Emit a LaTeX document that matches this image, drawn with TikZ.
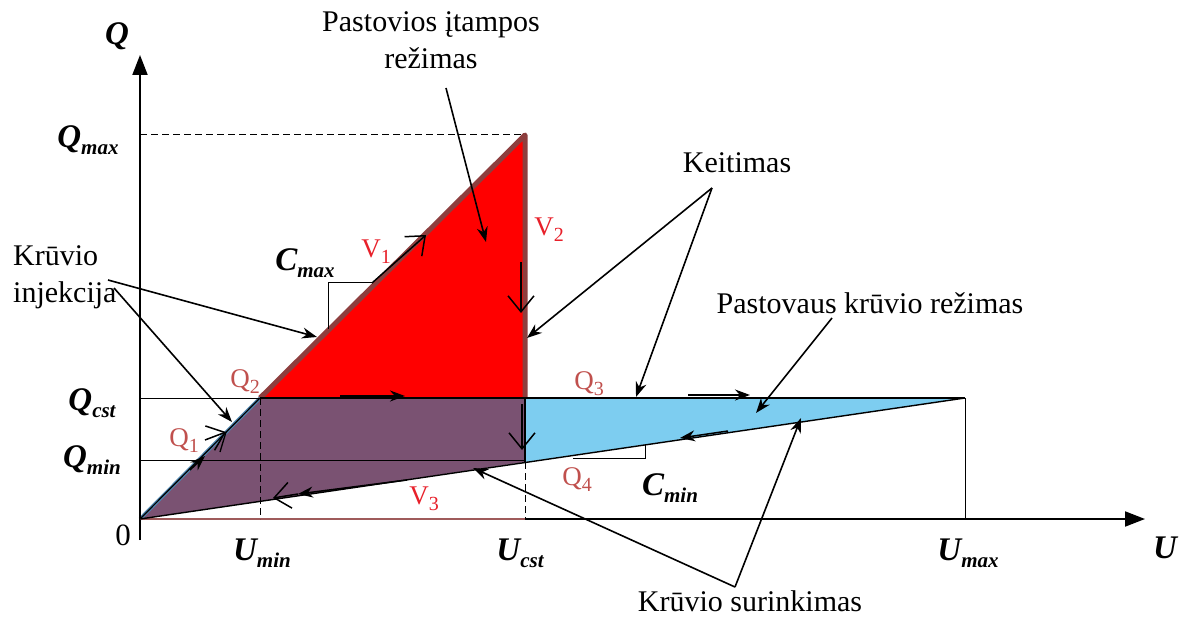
\documentclass[tikz,border=0pt]{standalone}
\usepackage{fontspec}
\setmainfont{Liberation Serif}
\usetikzlibrary{arrows.meta}
\definecolor{fillred}{HTML}{FF0000}
\definecolor{fillpurple}{HTML}{7A5272}
\definecolor{fillblue}{HTML}{7DCDF0}
\definecolor{edgebrown}{HTML}{8E3E3E}
\definecolor{qred}{HTML}{C0504D}
\definecolor{vred}{HTML}{E8202A}
\definecolor{edgeblue}{HTML}{4F86B0}
\newcommand\bsub[2]{#1\raisebox{-7pt}{\fontsize{21}{21}\selectfont #2}}
\newcommand\rsub[2]{#1\raisebox{-6pt}{\fontsize{20}{20}\selectfont #2}}
\begin{document}
\begin{tikzpicture}[x=1pt,y=-1pt,
  txt/.style={font=\fontsize{30}{37}\selectfont, inner sep=0pt},
  axl/.style={font=\fontsize{33}{36}\selectfont\bfseries\itshape, inner sep=0pt},
  qlab/.style={text=qred, font=\fontsize{27}{30}\selectfont, inner sep=0pt},
  vlab/.style={text=vred, font=\fontsize{27}{30}\selectfont, inner sep=0pt},
  ann/.style={line width=1.6pt, -{Stealth[length=15pt,width=11pt]}},
  flow/.style={line width=1.5pt, -{Stealth[length=15pt,width=11pt]}},
  barb/.style={line width=1.5pt, -{Straight Barb[length=16pt,width=26pt,line width=1.5pt]}},
  thinline/.style={line width=1pt},
  axis/.style={line width=2pt, -{Triangle[length=20pt,width=15pt]}},
]
\useasboundingbox (0,0) rectangle (1196,617);
\fill[white] (0,0) rectangle (1196,617);
% key points
\coordinate (O) at (140,519);
\coordinate (Q2p) at (260,398);
\coordinate (T) at (525,135);
\coordinate (Cq) at (525,398);
\coordinate (Cm) at (525,462);
\coordinate (Um) at (965,398);
\coordinate (Qcst0) at (140,398);
\coordinate (Qmin0) at (140,460);
\coordinate (Qmin1) at (525,460);
\coordinate (Qmax0) at (140,135);
\coordinate (UminB) at (260,519);
\coordinate (UcstB) at (525,519);
\coordinate (UmaxB) at (965,519);
\coordinate (Ybot) at (140,540);
\coordinate (Ytop) at (140,55);
\coordinate (Xend) at (1145,519);
% fills
\fill[fillred] (Q2p) -- (T) -- (Cq) -- cycle;
\fill[fillpurple] (O) -- (Q2p) -- (Cq) -- (Cm) -- cycle;
\fill[fillblue] (Cq) -- (Um) -- (Cm) -- cycle;
% edges
\draw[edgebrown, line width=5pt, line join=round] (Q2p) -- (T) -- (Cq);
\draw[edgeblue, line width=3.5pt] (O) -- (Q2p);
\draw[line width=1.2pt] (O) -- (Q2p);
\draw[line width=1.2pt] (Cq) -- (Cm);
% axes
\draw[axis] (Ybot) -- (Ytop);
\draw[axis] (O) -- (Xend);
\draw[edgebrown!85, line width=2.5pt] (O) -- (UcstB);
% guide lines
\draw[thinline, dashed, dash pattern=on 7pt off 4pt] (Qmax0) -- (T);
\draw[thinline] (Qcst0) -- (Q2p);
\draw[line width=1.8pt] (Q2p) -- (Um);
\draw[thinline] (Qmin0) -- (Qmin1);
\draw[line width=1.4pt] (O) -- (Um);
\draw[thinline, dashed, dash pattern=on 7pt off 4pt] (Q2p) -- (UminB);
\draw[thinline, dashed, dash pattern=on 7pt off 4pt] (Cm) -- (UcstB);
\draw[thinline] (Um) -- (UmaxB);
% slope brackets
\coordinate (cmaxA) at (328,329);
\coordinate (cmaxB) at (328,283);
\coordinate (cmaxC) at (372,283);
\draw[thinline] (cmaxA) -- (cmaxB) -- (cmaxC);
\coordinate (cminA) at (573,458);
\coordinate (cminB) at (645,458);
\coordinate (cminC) at (645,444);
\draw[thinline] (cminA) -- (cminB) -- (cminC);
% flow arrows
\coordinate (v1a) at (372,283);
\coordinate (v1b) at (426,235);
\draw[barb] (v1a) -- (v1b);
\coordinate (v2a) at (521,262);
\coordinate (v2b) at (521,313);
\draw[barb] (v2a) -- (v2b);
\coordinate (dna) at (522,404);
\coordinate (dnb) at (522,450);
\draw[barb] (dna) -- (dnb);
\coordinate (qca) at (340,396);
\coordinate (qcb) at (405,396);
\draw[flow] (qca) -- (qcb);
\coordinate (q3a) at (688,395);
\coordinate (q3b) at (750,395);
\draw[flow] (q3a) -- (q3b);
\coordinate (cla) at (728,431);
\coordinate (clb) at (680,438);
\draw[flow] (cla) -- (clb);
\coordinate (v3a) at (407,480);
\coordinate (v3b) at (298,494);
\coordinate (v3c) at (273,498);
\draw[flow] (v3a) -- (v3b);
\draw[barb] (v3b) -- (v3c);
\coordinate (q1a) at (190,470);
\coordinate (q1b) at (205,456);
\draw[flow] (q1a) -- (q1b);
\coordinate (q1c) at (205,440);
\coordinate (q1d) at (226,432);
\draw[barb] (q1c) -- (q1d);
\coordinate (q1e) at (220,452);
\draw[line width=1.3pt] (q1e) -- (q1d);
% texts
\node[txt, align=center] (pir) at (431,40) {Pastovios įtampos\\režimas};
\node[txt] (keit) at (737,163) {Keitimas};
\node[txt] (pkr) at (870,303) {Pastovaus krūvio režimas};
\node[txt, align=left, anchor=west] (kinj) at (13,277) {Krūvio\\injekcija};
\node[txt] (ksur) at (750,601) {Krūvio surinkimas};
% annotation arrows
\coordinate (pirS) at (446,88);
\coordinate (pirE) at (486,242);
\draw[ann] (pirS) -- (pirE);
\coordinate (keitS) at (712,188);
\coordinate (keitE1) at (527,338);
\coordinate (keitE2) at (636,397);
\draw[ann] (keitS) -- (keitE1);
\draw[ann] (keitS) -- (keitE2);
\coordinate (pkrS) at (832,318);
\coordinate (pkrE) at (756,413);
\draw[ann] (pkrS) -- (pkrE);
\coordinate (kinjS1) at (108,280);
\coordinate (kinjS2) at (114,288);
\coordinate (kinjE1) at (317,337);
\coordinate (kinjE2) at (232,422);
\draw[ann] (kinjS1) -- (kinjE1);
\draw[ann] (kinjS2) -- (kinjE2);
\coordinate (ksurS) at (735,587);
\coordinate (ksurE1) at (801,418);
\coordinate (ksurE2) at (473,468);
\draw[ann] (ksurS) -- (ksurE1);
\draw[ann] (ksurS) -- (ksurE2);
% axis labels
\node[axl] (lQ) at (117,36) {Q};
\node[axl] (lU) at (1165,548) {U};
\node[axl] (lQmax) at (88,140) {\bsub{Q}{max}};
\node[axl] (lQcst) at (92,403) {\bsub{Q}{cst}};
\node[axl] (lQmin) at (92,460) {\bsub{Q}{min}};
\node[axl] (lUmin) at (262,553) {\bsub{U}{min}};
\node[axl] (lUcst) at (520,553) {\bsub{U}{cst}};
\node[axl] (lUmax) at (968,553) {\bsub{U}{max}};
\node[axl] (lCmax) at (305,263) {\bsub{C}{max}};
\node[axl] (lCmin) at (670,488) {\bsub{C}{min}};
\node[txt, font=\fontsize{31}{34}\selectfont] (l0) at (123,535) {0};
% point labels
\node[qlab] (lQ1) at (184,441) {\rsub{Q}{1}};
\node[qlab] (lQ2) at (245,382) {\rsub{Q}{2}};
\node[qlab] (lQ3) at (589,384) {\rsub{Q}{3}};
\node[qlab] (lQ4) at (577,480) {\rsub{Q}{4}};
\node[vlab] (lV1) at (376,252) {\rsub{V}{1}};
\node[vlab] (lV2) at (549,230) {\rsub{V}{2}};
\node[vlab] (lV3) at (424,499) {\rsub{V}{3}};
\end{tikzpicture}
\end{document}
